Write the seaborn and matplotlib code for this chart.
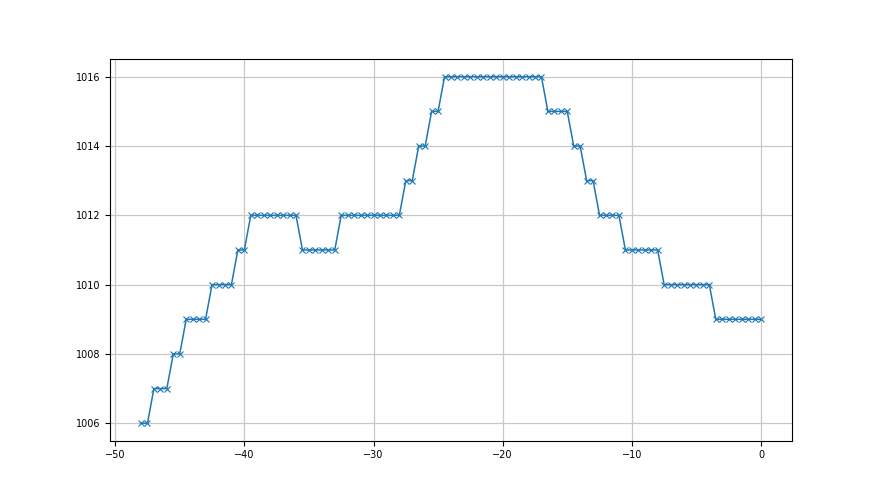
import numpy as np
import pandas as pd
import seaborn as sns
import matplotlib.pyplot as plt

# hours relative to now, sampled every half hour
horas = np.arange(-48, 0.5, 0.5)

# pressure levels, one entry per run of equal values
niveles = [1006, 1007, 1008, 1009, 1010, 1011, 1012, 1011, 1012, 1013,
           1014, 1015, 1016, 1015, 1014, 1013, 1012, 1011, 1010, 1009]
repeticiones = [2, 3, 2, 4, 4, 2, 8, 6, 10, 2,
                2, 2, 16, 4, 2, 2, 4, 6, 8, 8]

presion = np.repeat(niveles, repeticiones)
df = pd.DataFrame({"hora": horas, "presion": presion})

azul = "#1f77b4"
fig, ax = plt.subplots(figsize=(8.8, 4.95), dpi=100)
sns.lineplot(data=df, x="hora", y="presion", marker="x", markersize=4.5,
             markeredgewidth=0.8, markeredgecolor=azul, linewidth=1.1,
             color=azul, ax=ax)
ax.grid(True, color="#c8c8c8", linewidth=0.9)
ax.set_xlabel("")
ax.set_ylabel("")
ax.tick_params(labelsize=7)
ax.set_xticks([-50, -40, -30, -20, -10, 0])
ax.set_yticks([1006, 1008, 1010, 1012, 1014, 1016])
plt.savefig("out.png")
